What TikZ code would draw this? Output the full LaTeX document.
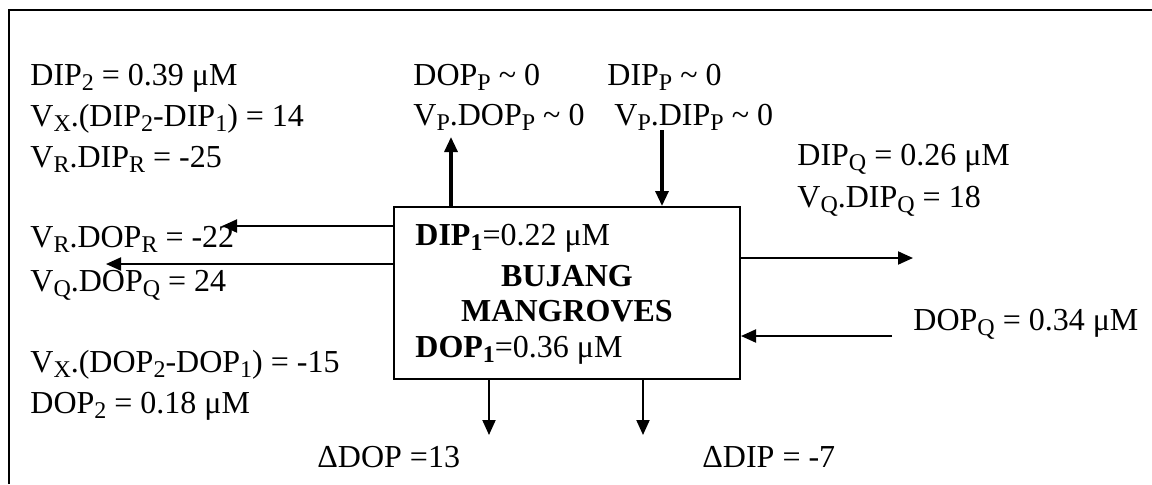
\documentclass[tikz,border=0pt]{standalone}
\usepackage{fontspec}
\setmainfont{Liberation Serif}
\usetikzlibrary{arrows.meta}
\newcommand{\lo}[1]{\raisebox{-2.6pt}{\fontsize{12}{12}\selectfont#1}}

\begin{document}
\begin{tikzpicture}[x=0.5pt,y=-0.5pt,font=\fontsize{16}{19}\selectfont,
  >={Triangle[length=7.5pt,width=6.5pt]},
  t/.style={anchor=base west,inner sep=0pt},
  flow/.style={->,line width=1pt},
  bigflow/.style={->,line width=1.6pt}]
  \useasboundingbox (0,0) rectangle (1152,484);
  \draw[line width=1pt] (9,484) -- (9,10) -- (1152,10);
  % the estuary box
  \node[draw,line width=1pt,minimum width=173pt,minimum height=86pt,inner sep=0pt] (box) at (567,293) {};
  \node[t] (dip1) at (415,245) {\textbf{DIP\lo{1}}=0.22 μM};
  \node[anchor=base,inner sep=0pt] (bujang) at (567,286) {\textbf{BUJANG}};
  \node[anchor=base,inner sep=0pt] (mangr) at (567,321) {\textbf{MANGROVES}};
  \node[t] (dop1) at (415,357) {\textbf{DOP\lo{1}}=0.36 μM};
  % left column
  \node[t] (dip2) at (30,85) {DIP\lo{2} = 0.39 μM};
  \node[t] (vxdip) at (30,126) {V\lo{X}.(DIP\lo{2}-DIP\lo{1}) = 14};
  \node[t] (vrdip) at (30,167) {V\lo{R}.DIP\lo{R} = -25};
  \node[t] (vrdop) at (30,247) {V\lo{R}.DOP\lo{R} = -22};
  \node[t] (vqdop) at (30,291) {V\lo{Q}.DOP\lo{Q} = 24};
  \node[t] (vxdop) at (30,372) {V\lo{X}.(DOP\lo{2}-DOP\lo{1}) = -15};
  \node[t] (dop2) at (30,413) {DOP\lo{2} = 0.18 μM};
  % precipitation
  \node[t] (dopp) at (413,85) {DOP\lo{P} \textasciitilde{} 0};
  \node[t] (vpdop) at (413,125) {V\lo{P}.DOP\lo{P} \textasciitilde{} 0};
  \node[t] (dipp) at (607,85) {DIP\lo{P} \textasciitilde{} 0};
  \node[t] (vpdip) at (614,125) {V\lo{P}.DIP\lo{P} \textasciitilde{} 0};
  % river side
  \node[t] (dipq) at (797,165) {DIP\lo{Q} = 0.26 μM};
  \node[t] (vqdip) at (797,207) {V\lo{Q}.DIP\lo{Q} = 18};
  \node[t] (dopq) at (913,330) {DOP\lo{Q} = 0.34 μM};
  % budgets
  \node[t] (deldop) at (317,467) {ΔDOP =13};
  \node[t] (deldip) at (702,467) {ΔDIP = -7};
  % arrow ends
  \coordinate (upend) at (451,137);
  \coordinate (dnbeg) at (662,130);
  \coordinate (rend) at (222,226);
  \coordinate (qend) at (106,264);
  \coordinate (outq) at (913,258);
  \coordinate (inq) at (892,336);
  \coordinate (dopend) at (489,435);
  \coordinate (dipend) at (643,435);
  \draw[bigflow](box.north -| upend)--(upend);
  \draw[bigflow](dnbeg)--(dnbeg |- box.north);
  \draw[flow](box.west |- rend)--(rend);\draw[flow](box.west |- qend)--(qend);
  \draw[flow](box.east |- outq)--(outq);\draw[flow](inq)--(inq -| box.east);
  \draw[flow](dopend |- box.south)--(dopend);\draw[flow](dipend |- box.south)--(dipend);
\end{tikzpicture}
\end{document}
